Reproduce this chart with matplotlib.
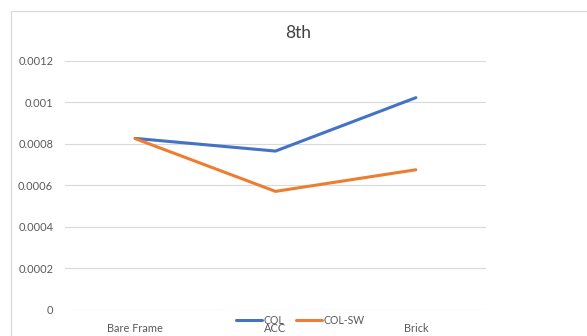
import matplotlib.pyplot as plt
from matplotlib.patches import Rectangle

plt.rcParams['font.family'] = ['Lato', 'DejaVu Sans']

# drift values per wall model
models = ["Bare Frame", "ACC", "Brick"]
col = [0.000826, 0.000765, 0.001022]
col_sw = [0.000825, 0.000571, 0.000675]
yticks = [0, 0.0002, 0.0004, 0.0006, 0.0008, 0.001, 0.0012]
ytick_labels = ["0", "0.0002", "0.0004", "0.0006", "0.0008", "0.001", "0.0012"]

W, H = 587, 336
fig = plt.figure(figsize=(W / 100, H / 100), dpi=100)

# light chart-area border
fig.patches.append(Rectangle((11 / W, -0.1), 1.2, 1 - 11 / H + 0.1,
                             transform=fig.transFigure, fill=False,
                             edgecolor="#D9D9D9", linewidth=0.9))

ax = fig.add_axes([65 / W, 1 - 310 / H, 421 / W, 249.3 / H])

x = range(len(models))
ax.plot(x, col, color="#4472C4", linewidth=2.2, label="COL", solid_capstyle="round")
ax.plot(x, col_sw, color="#ED7D31", linewidth=2.2, label="COL-SW", solid_capstyle="round")

ax.set_xlim(-0.5, len(models) - 0.5)
ax.set_ylim(0, 0.0012)
ax.set_xticks(list(x))
ax.set_xticklabels(models, fontsize=7.9, color="#595959")
ax.set_yticks(yticks)
ax.set_yticklabels(ytick_labels, fontsize=7.9, color="#595959")
ax.tick_params(axis="both", length=0)
ax.tick_params(axis="x", pad=9)
ax.tick_params(axis="y", pad=8.5)

ax.grid(axis="y", color="#D9D9D9", linewidth=0.8)
ax.set_axisbelow(True)
for s in ax.spines.values():
    s.set_visible(False)

fig.text(298 / W, 1 - 33 / H, "8th", fontsize=12.5, color="#404040",
         ha="center", va="center")

fig.legend(loc="center", bbox_to_anchor=(300 / W, 1 - 320 / H), ncol=2,
           frameon=False, fontsize=7.6, handlelength=2.5, handletextpad=0.1,
           columnspacing=1.1, labelcolor="#595959")

fig.savefig("out.png", dpi=100)
